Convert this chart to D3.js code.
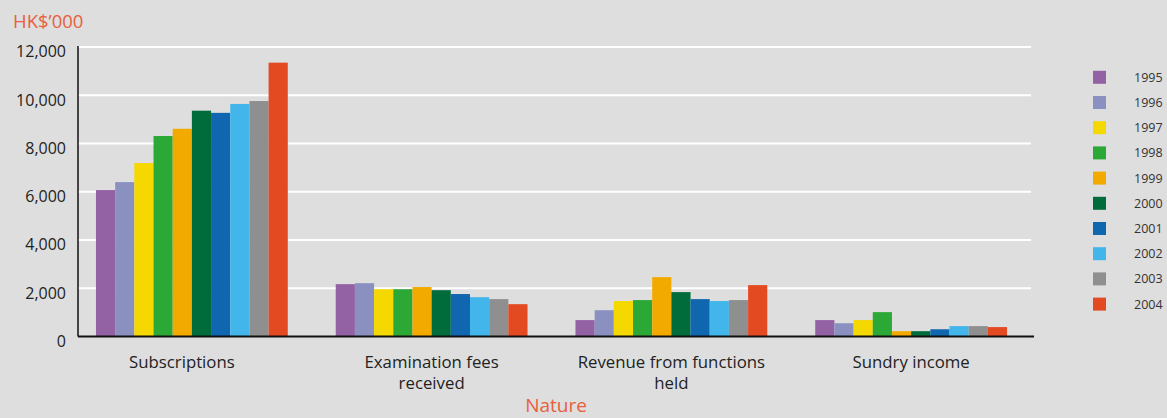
<!DOCTYPE html>
<html>
<head>
<meta charset="utf-8">
<script src="https://cdn.jsdelivr.net/npm/d3@7"></script>
<style>
  html, body { margin: 0; padding: 0; background: #dedede; }
  svg { display: block; }
  text { font-family: "Open Sans", "Noto Sans", sans-serif; }
</style>
</head>
<body>
<svg id="chart" width="1167" height="418"></svg>
<script>
// Income by nature, HK$'000, 1995–2004
const categories = ["Subscriptions", "Examination fees\nreceived", "Revenue from functions\nheld", "Sundry income"];
const years = ["1995", "1996", "1997", "1998", "1999", "2000", "2001", "2002", "2003", "2004"];
const subscriptions = [6070, 6400, 7190, 8310, 8610, 9360, 9270, 9640, 9760, 11350];
const examinationFees = [2170, 2210, 1960, 1960, 2050, 1920, 1760, 1630, 1550, 1340];
const functionsRevenue = [680, 1090, 1470, 1510, 2460, 1840, 1550, 1470, 1510, 2130];
const sundryIncome = [680, 550, 680, 1010, 220, 220, 300, 430, 430, 390];
const yTicks = [0, 2000, 4000, 6000, 8000, 10000, 12000];
const colors = ["#9362a4", "#8a90c0", "#f5d800", "#2ca836", "#f2aa00", "#006c3b", "#1166b0", "#42b6ea", "#8f8f8f", "#e44a21"];

const seriesByCategory = [subscriptions, examinationFees, functionsRevenue, sundryIncome];

const svg = d3.select("#chart");
const plotLeft = 78, plotRight = 1031, plotTop = 47, plotBottom = 336.5;

const x0 = d3.scaleBand().domain(categories).range([72, 1031]).paddingInner(0.2).paddingOuter(0.1);
const x1 = d3.scaleBand().domain(years).range([0, x0.bandwidth()]);
const y = d3.scaleLinear().domain([0, 12000]).range([plotBottom, plotTop]);
const color = d3.scaleOrdinal().domain(years).range(colors);

// gridlines
svg.append("g")
  .selectAll("line")
  .data(yTicks.filter(d => d > 0))
  .join("line")
  .attr("x1", plotLeft).attr("x2", plotRight)
  .attr("y1", d => y(d)).attr("y2", d => y(d))
  .attr("stroke", "#ffffff").attr("stroke-width", 2);

// bars
const groups = svg.append("g")
  .selectAll("g")
  .data(categories.map((c, i) => ({ c, values: seriesByCategory[i] })))
  .join("g")
  .attr("transform", d => `translate(${x0(d.c)},0)`);

groups.selectAll("rect")
  .data(d => d.values.map((v, i) => ({ year: years[i], v })))
  .join("rect")
  .attr("x", d => x1(d.year))
  .attr("width", x1.bandwidth())
  .attr("y", d => y(d.v))
  .attr("height", d => y(0) - y(d.v))
  .attr("fill", d => color(d.year));

// y axis
const yAxis = svg.append("g")
  .attr("transform", `translate(${plotLeft},0)`)
  .call(d3.axisLeft(y).tickValues(yTicks).tickFormat(d3.format(",")).tickSize(0).tickPadding(12));
yAxis.select(".domain").attr("stroke", "#111").attr("stroke-width", 1.5).attr("d", `M0,${plotTop - 1}V${plotBottom}`);
yAxis.selectAll("text").attr("font-size", 16).attr("fill", "#222")
  .attr("dy", "0.62em")
  .attr("font-family", "'Open Sans', 'Noto Sans', sans-serif");

// x baseline
svg.append("line")
  .attr("x1", plotLeft).attr("x2", 1034)
  .attr("y1", plotBottom).attr("y2", plotBottom)
  .attr("stroke", "#111").attr("stroke-width", 1.8);

// category labels
const catLabels = svg.append("g").selectAll("text")
  .data(categories)
  .join("text")
  .attr("x", d => x0(d) + x0.bandwidth() / 2 - (d === "Subscriptions" ? 10 : 0))
  .attr("y", 368)
  .attr("text-anchor", "middle")
  .attr("font-size", 16.8)
  .attr("fill", "#222");
catLabels.each(function (d) {
  const lines = d.split("\n");
  const cx = d3.select(this).attr("x");
  d3.select(this).selectAll("tspan")
    .data(lines)
    .join("tspan")
    .attr("x", cx)
    .attr("dy", (l, i) => i === 0 ? 0 : 21)
    .text(l => l);
});

// axis titles
svg.append("text")
  .attr("x", 13).attr("y", 28)
  .attr("font-size", 18.5).attr("fill", "#e8603c")
  .text("HK$\u2019000");

svg.append("text")
  .attr("x", 556).attr("y", 412)
  .attr("text-anchor", "middle")
  .attr("font-size", 19).attr("fill", "#e8603c")
  .text("Nature");

// legend
const legend = svg.append("g").selectAll("g")
  .data(years)
  .join("g")
  .attr("transform", (d, i) => `translate(1093,${77.3 + i * 25.2})`);
legend.append("rect")
  .attr("x", 0).attr("y", -6.5)
  .attr("width", 13).attr("height", 13)
  .attr("fill", d => color(d));
legend.append("text")
  .attr("x", 41).attr("y", 4.5)
  .attr("font-size", 12.5).attr("fill", "#333")
  .text(d => d);
</script>
</body>
</html>
